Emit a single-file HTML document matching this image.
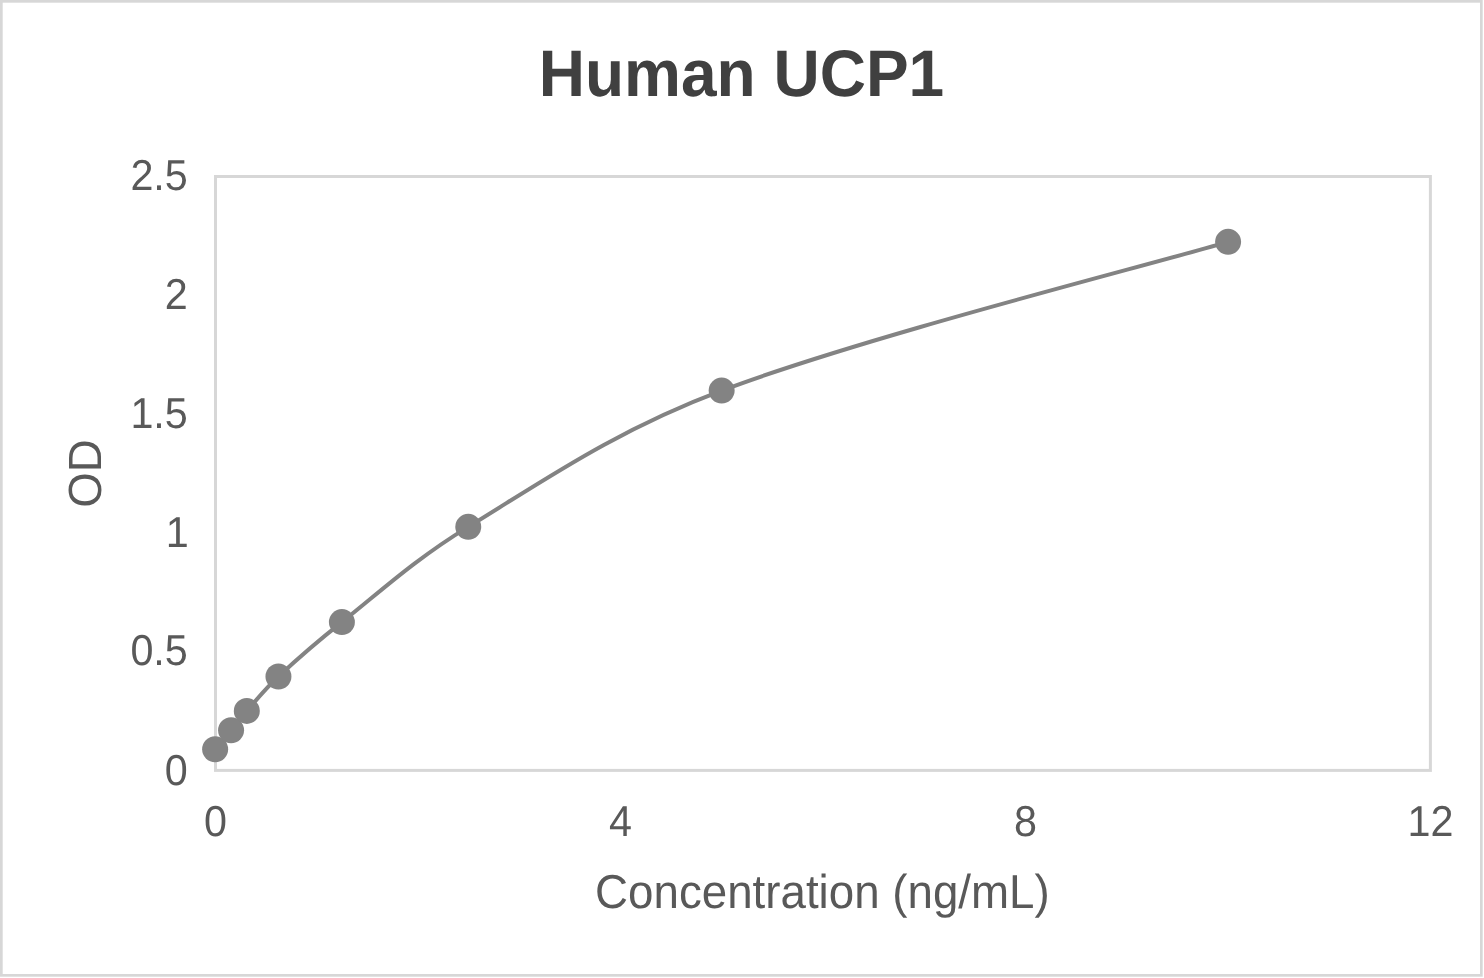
<!DOCTYPE html>
<html lang="en">
<head>
<meta charset="utf-8">
<title>Human UCP1</title>
<style>
html,body{margin:0;padding:0;background:#fff;}
body{width:1484px;height:978px;overflow:hidden;}
svg{display:block;}
text{font-family:"Liberation Sans",sans-serif;text-rendering:geometricPrecision;}
</style>
</head>
<body>
<svg width="1484" height="978" viewBox="0 0 1484 978">
<rect x="0" y="0" width="1484" height="978" fill="#ffffff"/>
<rect x="1.35" y="1.35" width="1480.00" height="974.00" fill="none" stroke="#d7d7d7" stroke-width="2.7"/>
<rect x="215.5" y="176.5" width="1214.90" height="593.90" fill="none" stroke="#d7d7d7" stroke-width="3.0"/>
<text transform="translate(741.5 95.7) scale(1 1.03)" font-size="64" font-weight="bold" fill="#404040" text-anchor="middle">Human UCP1</text>
<g fill="#595959">
<text transform="translate(187.80 784.70) scale(1 1.047)" font-size="41.3" text-anchor="end">0</text>
<text transform="translate(187.80 665.32) scale(1 1.047)" font-size="41.3" text-anchor="end">0.5</text>
<text transform="translate(188.80 546.54) scale(1 1.047)" font-size="41.3" text-anchor="end">1</text>
<text transform="translate(187.80 427.56) scale(1 1.047)" font-size="41.3" text-anchor="end">1.5</text>
<text transform="translate(187.80 308.58) scale(1 1.047)" font-size="41.3" text-anchor="end">2</text>
<text transform="translate(187.80 190.20) scale(1 1.047)" font-size="41.3" text-anchor="end">2.5</text>
<text transform="translate(215.50 835.50) scale(1 1.047)" font-size="41.3" text-anchor="middle">0</text>
<text transform="translate(620.47 835.50) scale(1 1.047)" font-size="41.3" text-anchor="middle">4</text>
<text transform="translate(1025.43 835.50) scale(1 1.047)" font-size="41.3" text-anchor="middle">8</text>
<text transform="translate(1430.40 835.50) scale(1 1.047)" font-size="41.3" text-anchor="middle">12</text>
<text transform="translate(822.40 907.90) scale(1 1.04)" font-size="45.7" text-anchor="middle">Concentration (ng/mL)</text>
<text transform="translate(101.3 473.6) rotate(-90) scale(1 1.018)" font-size="45.7" text-anchor="middle">OD</text>
</g>
<path d="M215.15 749.20 C217.80 746.05 225.81 736.67 231.07 730.30 C236.36 723.90 240.13 718.47 246.80 710.90 C255.92 700.54 264.89 689.17 278.45 676.50 C296.59 659.57 315.27 643.09 341.90 622.10 C378.54 593.21 414.36 559.71 468.26 526.85 C540.94 482.54 614.08 430.95 721.65 390.60 C867.36 335.95 1143.69 266.64 1228.10 241.85" fill="none" stroke="#838383" stroke-width="4.0" stroke-linecap="round" stroke-linejoin="round"/>
<g fill="#838383">
<circle cx="215.15" cy="749.2" r="13.0"/>
<circle cx="231.07" cy="730.3" r="13.0"/>
<circle cx="246.8" cy="710.9" r="13.0"/>
<circle cx="278.45" cy="676.5" r="13.0"/>
<circle cx="341.9" cy="622.1" r="13.0"/>
<circle cx="468.26" cy="526.85" r="13.0"/>
<circle cx="721.65" cy="390.6" r="13.0"/>
<circle cx="1228.1" cy="241.85" r="13.0"/>
</g>
</svg>
</body>
</html>
